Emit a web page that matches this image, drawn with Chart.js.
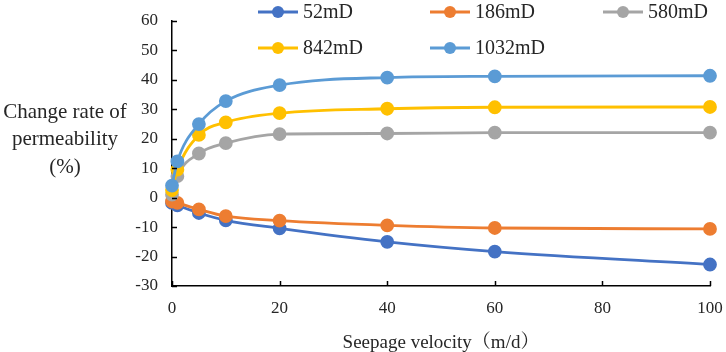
<!DOCTYPE html>
<html><head><meta charset="utf-8">
<script src="https://cdn.jsdelivr.net/npm/chart.js@4.4.0/dist/chart.umd.min.js"></script>
<style>html,body{margin:0;padding:0;background:#fff;}#wrap{width:726px;height:352px;position:relative;}</style>
</head><body><div id="wrap"><canvas id="c"></canvas></div>
<script>
// ---- data ----
const velocity = [0, 1, 5, 10, 20, 40, 60, 100];
const seriesNames = ['52mD', '186mD', '580mD', '842mD', '1032mD'];
const k52   = [-1.8, -2.6, -5.2, -7.7, -10.4, -15.0, -18.3, -22.7];
const k186  = [-1.3, -1.8, -4.0, -6.3, -7.8, -9.4, -10.3, -10.6];
const k580  = [1.0, 7.3, 15.0, 18.5, 21.6, 21.8, 22.1, 22.1];
const k842  = [2.6, 9.5, 21.3, 25.6, 28.7, 30.2, 30.7, 30.8];
const k1032 = [4.1, 12.3, 25.0, 32.8, 38.2, 40.8, 41.2, 41.4];
const yTitleLines = ['Change rate of', 'permeability', '(%)'];
const xTitle = 'Seepage velocity\uFF08m/d\uFF09';

const colors = ['#4472C4', '#ED7D31', '#A5A5A5', '#FFC000', '#5B9BD5'];
const values = [k52, k186, k580, k842, k1032];
const FONT = "'Liberation Serif','Times New Roman','Noto Serif CJK SC','Noto Sans CJK SC',serif";

const datasets = values.map((vals, i) => ({
  label: seriesNames[i],
  data: vals.map((v, j) => ({x: velocity[j], y: v})),
  borderColor: colors[i],
  backgroundColor: colors[i],
  pointBackgroundColor: colors[i],
  pointBorderColor: colors[i],
  pointRadius: 5.5,
  borderWidth: 2.8,
  cubicInterpolationMode: 'monotone',
  clip: false,
  order: values.length - 1 - i
}));

const innerTicks = {
  id: 'innerTicks',
  afterDraw(chart) {
    const ctx = chart.ctx, ca = chart.chartArea;
    const xs = chart.scales.x, ys = chart.scales.y;
    ctx.save();
    ctx.strokeStyle = '#000'; ctx.lineWidth = 1.5;
    ys.ticks.forEach((t, i) => {
      const y = Math.round(ys.getPixelForTick(i)) + 0.5;
      ctx.beginPath(); ctx.moveTo(ca.left, y); ctx.lineTo(ca.left + 5, y); ctx.stroke();
    });
    xs.ticks.forEach((t, i) => {
      const x = Math.round(xs.getPixelForTick(i)) + 0.5;
      ctx.beginPath(); ctx.moveTo(x, ca.bottom); ctx.lineTo(x, ca.bottom - 5); ctx.stroke();
    });
    // y-axis title (horizontal, multi-line)
    ctx.fillStyle = '#262626';
    ctx.font = '21px ' + FONT;
    ctx.textAlign = 'center'; ctx.textBaseline = 'middle';
    const ty = [112, 139, 167];
    yTitleLines.forEach((s, i) => ctx.fillText(s, 65, ty[i]));
    // legend
    const cols = [258, 430, 603], rows = [12, 48];
    ctx.font = '20px ' + FONT;
    ctx.textAlign = 'left';
    chart.data.datasets.forEach((ds, i) => {
      const cx = cols[i % 3], cy = rows[Math.floor(i / 3)];
      ctx.strokeStyle = ds.borderColor; ctx.lineWidth = 2.8;
      ctx.beginPath(); ctx.moveTo(cx, cy); ctx.lineTo(cx + 40, cy); ctx.stroke();
      ctx.fillStyle = ds.borderColor;
      ctx.beginPath(); ctx.arc(cx + 20, cy, 6, 0, Math.PI * 2); ctx.fill();
      ctx.fillStyle = '#262626';
      ctx.fillText(ds.label, cx + 45, cy + 1);
    });
    ctx.restore();
  }
};

new Chart(document.getElementById('c'), {
  type: 'line',
  data: { datasets },
  options: {
    responsive: true, maintainAspectRatio: false, animation: false, devicePixelRatio: 1,
    layout: { padding: { top: 21, right: 16, left: 0, bottom: 0 } },
    plugins: { legend: { display: false }, tooltip: { enabled: false } },
    scales: {
      x: {
        type: 'linear', min: 0, max: 100,
        ticks: { stepSize: 20, color: '#262626', font: { family: FONT, size: 17 }, padding: 12, maxRotation: 0 },
        grid: { display: true, drawOnChartArea: false, drawTicks: false },
        border: { display: true, color: '#000', width: 1.5 },
        title: { display: true, text: xTitle, color: '#262626', font: { family: FONT, size: 19 }, padding: { top: 8, bottom: -2 } },
        afterFit: s => { s.height = 66; s.paddingLeft = 0; s.paddingRight = 0; }
      },
      y: {
        min: -30, max: 60,
        ticks: { stepSize: 10, color: '#262626', font: { family: FONT, size: 17 }, padding: 14 },
        grid: { display: true, drawOnChartArea: false, drawTicks: false },
        border: { display: true, color: '#000', width: 1.5 },
        afterFit: s => { s.width = 172; s.paddingTop = 0; s.paddingBottom = 0; }
      }
    }
  },
  plugins: [innerTicks]
});
</script></body></html>
